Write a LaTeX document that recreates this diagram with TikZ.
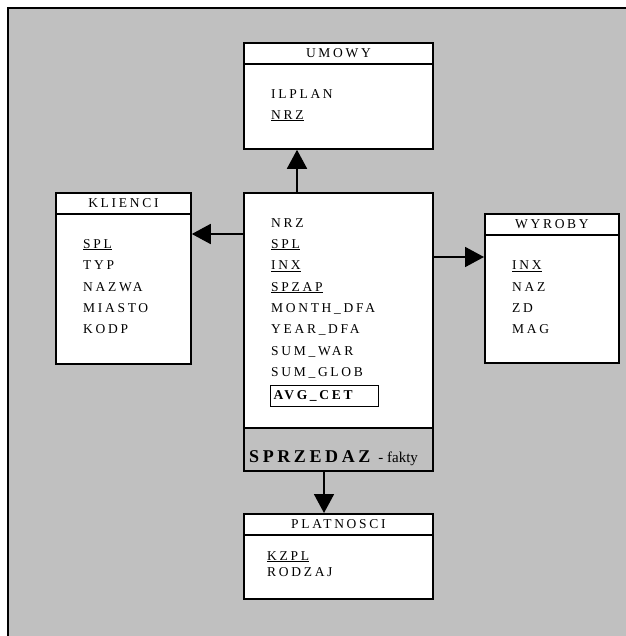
\documentclass[tikz,border=0pt]{standalone}
\usepackage{fontspec}
\setmainfont{Liberation Serif}
\newfontfamily\spaced[LetterSpace=20]{Liberation Serif}
\usetikzlibrary{arrows.meta}
\definecolor{panel}{HTML}{C0C0C0}
\newcommand\pkey[1]{\setbox0\hbox{#1}\rlap{\rule[-1.6pt]{\wd0}{0.8pt}}\box0}
\tikzset{entity/.style={draw,fill=white,line width=1.8pt,anchor=north west,minimum width=189pt,inner sep=0pt}, header/.style={entity,minimum height=21pt,font=\spaced\fontsize{13.5}{16}\selectfont,text height=9pt,text depth=0pt}, field/.style={anchor=base west,inner sep=0pt,font=\spaced\fontsize{13.5}{16}\selectfont}, link/.style={-{Triangle[length=19pt,width=20pt]},line width=1.8pt}}

\begin{document}
\begin{tikzpicture}[x=1pt,y=-1pt]
\useasboundingbox (0,0) rectangle (625,636);
\fill[panel] (8,8) rectangle (640,650);
\draw[line width=2.5pt] (8,650) -- (8,8) -- (640,8);
% UMOWY
\node[entity,minimum height=106pt] (umowy) at (243,42) {};
\node[header] (umowyhead) at (243,42) {UMOWY};
\node[field] (ilplan) at (271,98.3) {ILPLAN};
\node[field] (umowynrz) at (271,119.3) {\pkey{NRZ}};
% KLIENCI
\node[entity,minimum width=135pt,minimum height=171pt] (klienci) at (55,192) {};
\node[header,minimum width=135pt] (kliencihead) at (55,192) {KLIENCI};
\node[field] (klientspl) at (83,248.3) {\pkey{SPL}};
\node[field] (typ) at (83,269.7) {TYP};
\node[field] (nazwa) at (83,291) {NAZWA};
\node[field] (miasto) at (83,312.3) {MIASTO};
\node[field] (kodp) at (83,333.7) {KODP};
% WYROBY
\node[entity,minimum width=134pt,minimum height=149pt] (wyroby) at (484,213) {};
\node[header,minimum width=134pt] (wyrobyhead) at (484,213) {WYROBY};
\node[field] (wyrobinx) at (512,269.7) {\pkey{INX}};
\node[field] (naz) at (512,291) {NAZ};
\node[field] (zd) at (512,312.3) {ZD};
\node[field] (mag) at (512,333.7) {MAG};
% SPRZEDAZ (fakty)
\node[entity,minimum height=278pt] (fakty) at (243,192) {};
\node[field] (nrz) at (271,227) {NRZ};
\node[field] (spl) at (271,248.3) {\pkey{SPL}};
\node[field] (inx) at (271,269.7) {\pkey{INX}};
\node[field] (spzap) at (271,291) {\pkey{SPZAP}};
\node[field] (month) at (271,312.3) {MONTH\_DFA};
\node[field] (year) at (271,333.7) {YEAR\_DFA};
\node[field] (sumwar) at (271,355) {SUM\_WAR};
\node[field] (sumglob) at (271,376.3) {SUM\_GLOB};
\node[draw,line width=1.2pt,anchor=north west,minimum width=108pt,minimum height=21pt,inner xsep=3pt,text width=102pt,align=left,font=\spaced\fontsize{13.5}{16}\selectfont\bfseries] (avgcet) at (270,385) {AVG\_CET};
\node[entity,fill=panel,minimum height=43pt] (faktyband) at (243,427) {};
\node[anchor=base west,inner sep=0pt] (faktytitle) at (249,462) {{\spaced\fontsize{18}{20}\selectfont\bfseries SPRZEDAZ}\hspace{8pt}{\fontsize{15}{17}\selectfont - fakty}};
% PLATNOSCI
\node[entity,minimum height=85pt] (platnosci) at (243,513) {};
\node[header] (platnoscihead) at (243,513) {PLATNOSCI};
\node[field] (kzpl) at (267,560) {\pkey{KZPL}};
\node[field] (rodzaj) at (267,576.7) {RODZAJ};
% powiazania
\coordinate (wyrobyin) at ([yshift=-44pt]wyroby.north west);
\draw[link] ([xshift=54pt]fakty.north west) -- ([xshift=54pt]umowy.south west);
\draw[link] ([yshift=-42pt]fakty.north west) -- ([yshift=-42pt]klienci.north east);
\draw[link] (fakty.east |- wyrobyin) -- (wyrobyin);
\draw[link] ([xshift=81pt]fakty.south west) -- ([xshift=81pt]platnosci.north west);
\end{tikzpicture}
\end{document}
